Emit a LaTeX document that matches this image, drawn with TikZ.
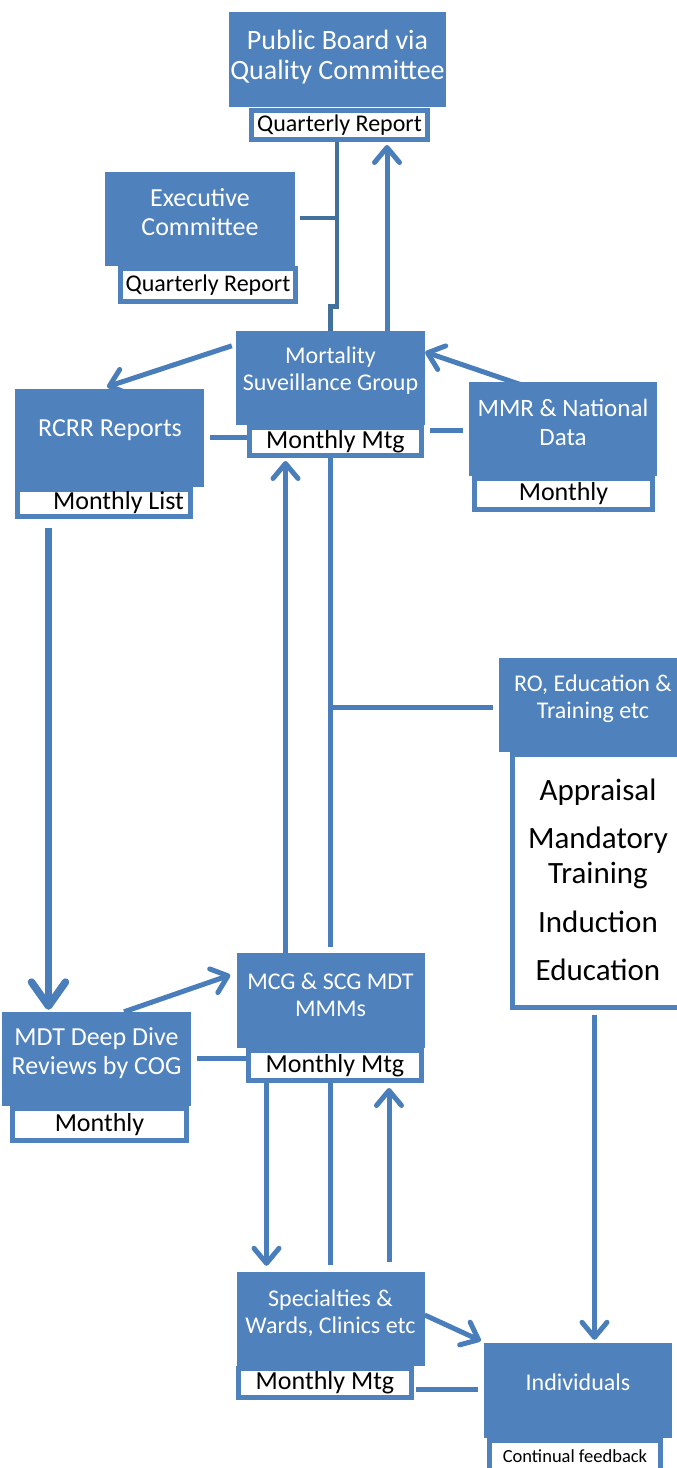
\documentclass[tikz,border=0pt]{standalone}
\usepackage{fontspec}
\setmainfont{Carlito}
\usetikzlibrary{arrows.meta,calc}
\pgfdeclarelayer{bg}
\pgfdeclarelayer{paper}
\pgfsetlayers{paper,bg,main}
\definecolor{bl}{HTML}{4F81BD}
\definecolor{dkbl}{HTML}{41719C}
\definecolor{lnbl}{HTML}{4A7EBB}
\tikzset{
  box/.style={fill=bl, draw=none, inner sep=0pt, minimum width=188pt, minimum height=94pt},
  lab/.style={draw=bl, line width=5pt, fill=white, inner sep=0pt, text=black, align=center},
  wt/.style={text=white, align=center, inner sep=0pt},
  ln/.style={draw=lnbl, line width=5pt},
  dk/.style={draw=dkbl, line width=4.5pt},
  arr/.style={ln, -{Straight Barb[length=15pt,width=25pt,round]}},
  bigarr/.style={ln, line width=7.5pt, -{Straight Barb[length=24pt,width=34pt,round]}},
  fA/.style={font=\fontsize{28}{30}\selectfont},
  fB/.style={font=\fontsize{26}{29}\selectfont},
  fC/.style={font=\fontsize{24}{27}\selectfont},
}
\begin{document}
\begin{tikzpicture}[x=1pt,y=-1pt]
\clip (0,0) rectangle (677,1468);
\begin{pgfonlayer}{paper}
\fill[white] (0,0) rectangle (677,1468);
\end{pgfonlayer}

% label boxes
\node[lab, minimum width=176pt, minimum height=29pt, font=\fontsize{24}{27}\selectfont] (pbl) at (339.5,125) {Quarterly Report};
\node[lab, minimum width=175pt, minimum height=33pt, font=\fontsize{24}{27}\selectfont] (exl) at (208,285) {Quarterly Report};
\node[lab, minimum width=172pt, minimum height=28pt, fB] (mortl) at (335.5,441.5) {Monthly Mtg};
\node[lab, minimum width=173pt, minimum height=27pt, fB] (rcrrl) at (104,503) {\hspace*{29pt}Monthly List};
\node[lab, minimum width=178pt, minimum height=31pt, fB] (mmrl) at (563.5,494) {Monthly};
\node[lab, minimum width=175pt, minimum height=253pt] (rol) at (600,881) {};
\node[align=center, inner sep=0pt, font=\fontsize{31}{35}\selectfont] (rolt) at (598,880) {Appraisal\\[13pt]Mandatory\\Training\\[14pt]Induction\\[13pt]Education};
\node[lab, minimum width=173pt, minimum height=30pt, fB] (mcgl) at (335,1065.5) {Monthly Mtg};
\node[lab, minimum width=174pt, minimum height=32pt, fB] (mdtl) at (99.5,1124.5) {Monthly};
\node[lab, minimum width=173pt, minimum height=29pt, fB] (specl) at (325,1383) {Monthly Mtg};
\node[lab, minimum width=171pt, minimum height=31pt, font=\fontsize{18.5}{21}\selectfont] (indl) at (575,1456) {Continual feedback};

% blue boxes
\node[box, minimum width=217pt, minimum height=95pt] (pb) at (337.5,59.5) {};
\node[box, minimum width=190pt] (exec) at (200,219) {};
\node[box, minimum width=189pt] (mort) at (330.5,378) {};
\node[box, minimum width=189pt, minimum height=98pt] (rcrr) at (109.5,438) {};
\node[box] (mmr) at (563,429) {};
\node[box] (ro) at (593,705) {};
\node[box, minimum height=95pt] (mcg) at (330.5,1000.5) {};
\node[box, minimum width=189pt] (mdt) at (96.5,1059) {};
\node[box] (spec) at (330.5,1319) {};
\node[box, minimum height=95pt] (ind) at (578,1390.5) {};

% box texts
\node[wt, fA] (pbt) at (337.5,57) {Public Board via\\Quality Committee};
\node[wt, fB] (exect) at (200,212) {Executive\\Committee};
\node[wt, fC] (mortt) at (330.5,370.5) {Mortality\\Suveillance Group};
\node[wt, fB] (rcrrt) at (110,430) {RCRR Reports};
\node[wt, font=\fontsize{25}{29}\selectfont] (mmrt) at (563,422.5) {MMR \& National\\Data};
\node[wt, fC] (rot) at (593,698.5) {RO, Education \&\\Training etc};
\node[wt, fC] (mcgt) at (330.5,994.5) {MCG \& SCG MDT\\MMMs};
\node[wt, fB] (mdtt) at (96.5,1053.5) {MDT Deep Dive\\Reviews by COG};
\node[wt, fC] (spect) at (330.5,1313.5) {Specialties \&\\Wards, Clinics etc};
\node[wt, fC] (indt) at (578,1382) {Individuals};

\begin{pgfonlayer}{bg}
% top
\coordinate (pbj) at ($(pbl.south)+(-2.5,0)$);
\draw[dk] (pbj) -- ++(0,164.5) -| (mort.north);
\coordinate (exj) at ($(exec.east)+(5,-1)$);
\draw[dk] (exj) -- (exj -| pbj);
\draw[arr] ($(mort.north)+(56.5,0)$) -- ($(pbl.south)+(47.5,3)$);
% mortality
\draw[arr] ($(mort.north west)+(-4,15)$) -- ($(rcrr.north)+(-2.5,-2)$);
\draw[arr] ($(mmr.north)+(-33,6)$) -- ($(mort.east)+(0,-26)$);
\coordinate (c5) at ($(rcrr.east)+(6,-1)$);
\draw[ln] (c5) -- (c5 -| mortl.west);
\draw[ln] ($(mmr.west)+(-6,1)$) -- ($(mmr.west -| mort.east)+(5,1)$);
\coordinate (a7) at ($(rcrrl.south west)+(33.5,8.5)$);
\draw[bigarr] (a7) -- ($(a7 |- mdt.north)+(0,-2)$);
\coordinate (a8) at ($(mcg.north)+(-45,0)$);
\draw[arr] (a8) -- ($(a8 |- mortl.south)+(0,3)$);
\draw[ln] (mort.center |- mortl.south) -- ($(mcg.north)+(0,-6)$);
\draw[ln] ($(ro.west)+(-6,2)$) -- ($(ro.west -| mort.center)+(0,2)$);
\coordinate (a10) at ($(rol.south west)+(84.5,5)$);
\draw[arr] (a10) -- ($(a10 |- ind.north)+(0,-3)$);
% lower
\draw[arr] ($(mdt.north)+(27.5,0)$) -- ($(mcg.west)+(-6,-25.5)$);
\coordinate (c12) at ($(mdt.east)+(6,-1)$);
\draw[ln] (c12) -- (c12 -| mcgl.west);
\coordinate (a13) at ($(mcgl.south west)+(20.5,0)$);
\draw[arr] (a13) -- ($(a13 |- spec.north)+(0,-6)$);
\draw[ln] (mcg.center |- mcgl.south) -- ($(spec.north)+(0,-7)$);
\coordinate (a15) at ($(spec.north)+(58.5,-10)$);
\draw[arr] (a15) -- ($(a15 |- mcgl.south)+(0,5)$);
\draw[arr] ($(spec.east)+(0,-4)$) -- ($(ind.north west)+(-3,-2)$);
\coordinate (c17) at ($(ind.west)+(-6,-1.5)$);
\draw[ln] (c17) -- ($(c17 -| specl.east)+(2,0)$);
\end{pgfonlayer}
\end{tikzpicture}
\end{document}
